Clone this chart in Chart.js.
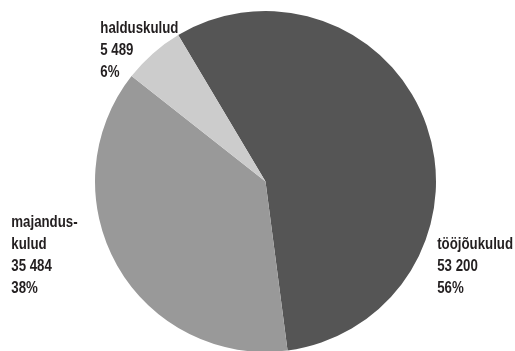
<!DOCTYPE html>
<html>
<head>
<meta charset="utf-8">
<script src="https://cdn.jsdelivr.net/npm/chart.js@4.4.0/dist/chart.umd.min.js"></script>
<style>
  html, body { margin: 0; padding: 0; background: #fff; overflow: hidden; }
  #wrap { width: 515px; height: 355px; position: relative; }
</style>
</head>
<body>
<div id="wrap"><canvas id="kuludChart"></canvas></div>
<script>
// kulude jaotus
var categories = ["tööjõukulud", "majanduskulud", "halduskulud"];
var labelLines = [["tööjõukulud"], ["majandus-", "kulud"], ["halduskulud"]];
var values = [53200, 35484, 5489];
var colors = ["#555555", "#999999", "#cccccc"];

// where each label block sits, in pie radii from the centre (x of left edge, y of first baseline)
var labelAnchors = [
  [1.007, 0.396],
  [-1.491, 0.267],
  [-0.969, -0.871],
];

function fmt(n) {
  return String(n).replace(/\B(?=(\d{3})+(?!\d))/g, " ");
}

var total = values.reduce(function (a, b) { return a + b; }, 0);

// no condensed face installed, so squeeze a normal one sideways
var SQUEEZE = 0.78;

var pieLabels = {
  id: "pieLabels",
  afterDatasetsDraw: function (chart) {
    var ctx = chart.ctx;
    var meta = chart.getDatasetMeta(0);
    meta.data.forEach(function (arc, i) {
      var r = arc.outerRadius;
      var x = arc.x + labelAnchors[i][0] * r;
      var y = arc.y + labelAnchors[i][1] * r;
      var lines = labelLines[i].concat([fmt(values[i]), Math.round(values[i] / total * 100) + "%"]);
      ctx.save();
      ctx.translate(x, y);
      ctx.scale(SQUEEZE, 1);
      ctx.fillStyle = "#231f20";
      ctx.font = "bold 17px 'Liberation Sans', Arial, sans-serif";
      ctx.textAlign = "left";
      ctx.textBaseline = "alphabetic";
      lines.forEach(function (t, k) {
        ctx.fillText(t, 0, k * 22);
      });
      ctx.restore();
    });
  },
};

window.onload = function () {
  var ctx = document.getElementById("kuludChart").getContext("2d");
  new Chart(ctx, {
    type: "pie",
    data: {
      labels: categories,
      datasets: [
        {
          data: values,
          backgroundColor: colors,
          borderWidth: 0,
        },
      ],
    },
    options: {
      responsive: true,
      maintainAspectRatio: false,
      animation: false,
      rotation: -30.8,
      layout: {
        padding: { left: 16, right: 0, top: 11, bottom: 3 },
      },
      plugins: {
        legend: { display: false },
        tooltip: { enabled: false },
      },
    },
    plugins: [pieLabels],
  });
};
</script>
</body>
</html>
